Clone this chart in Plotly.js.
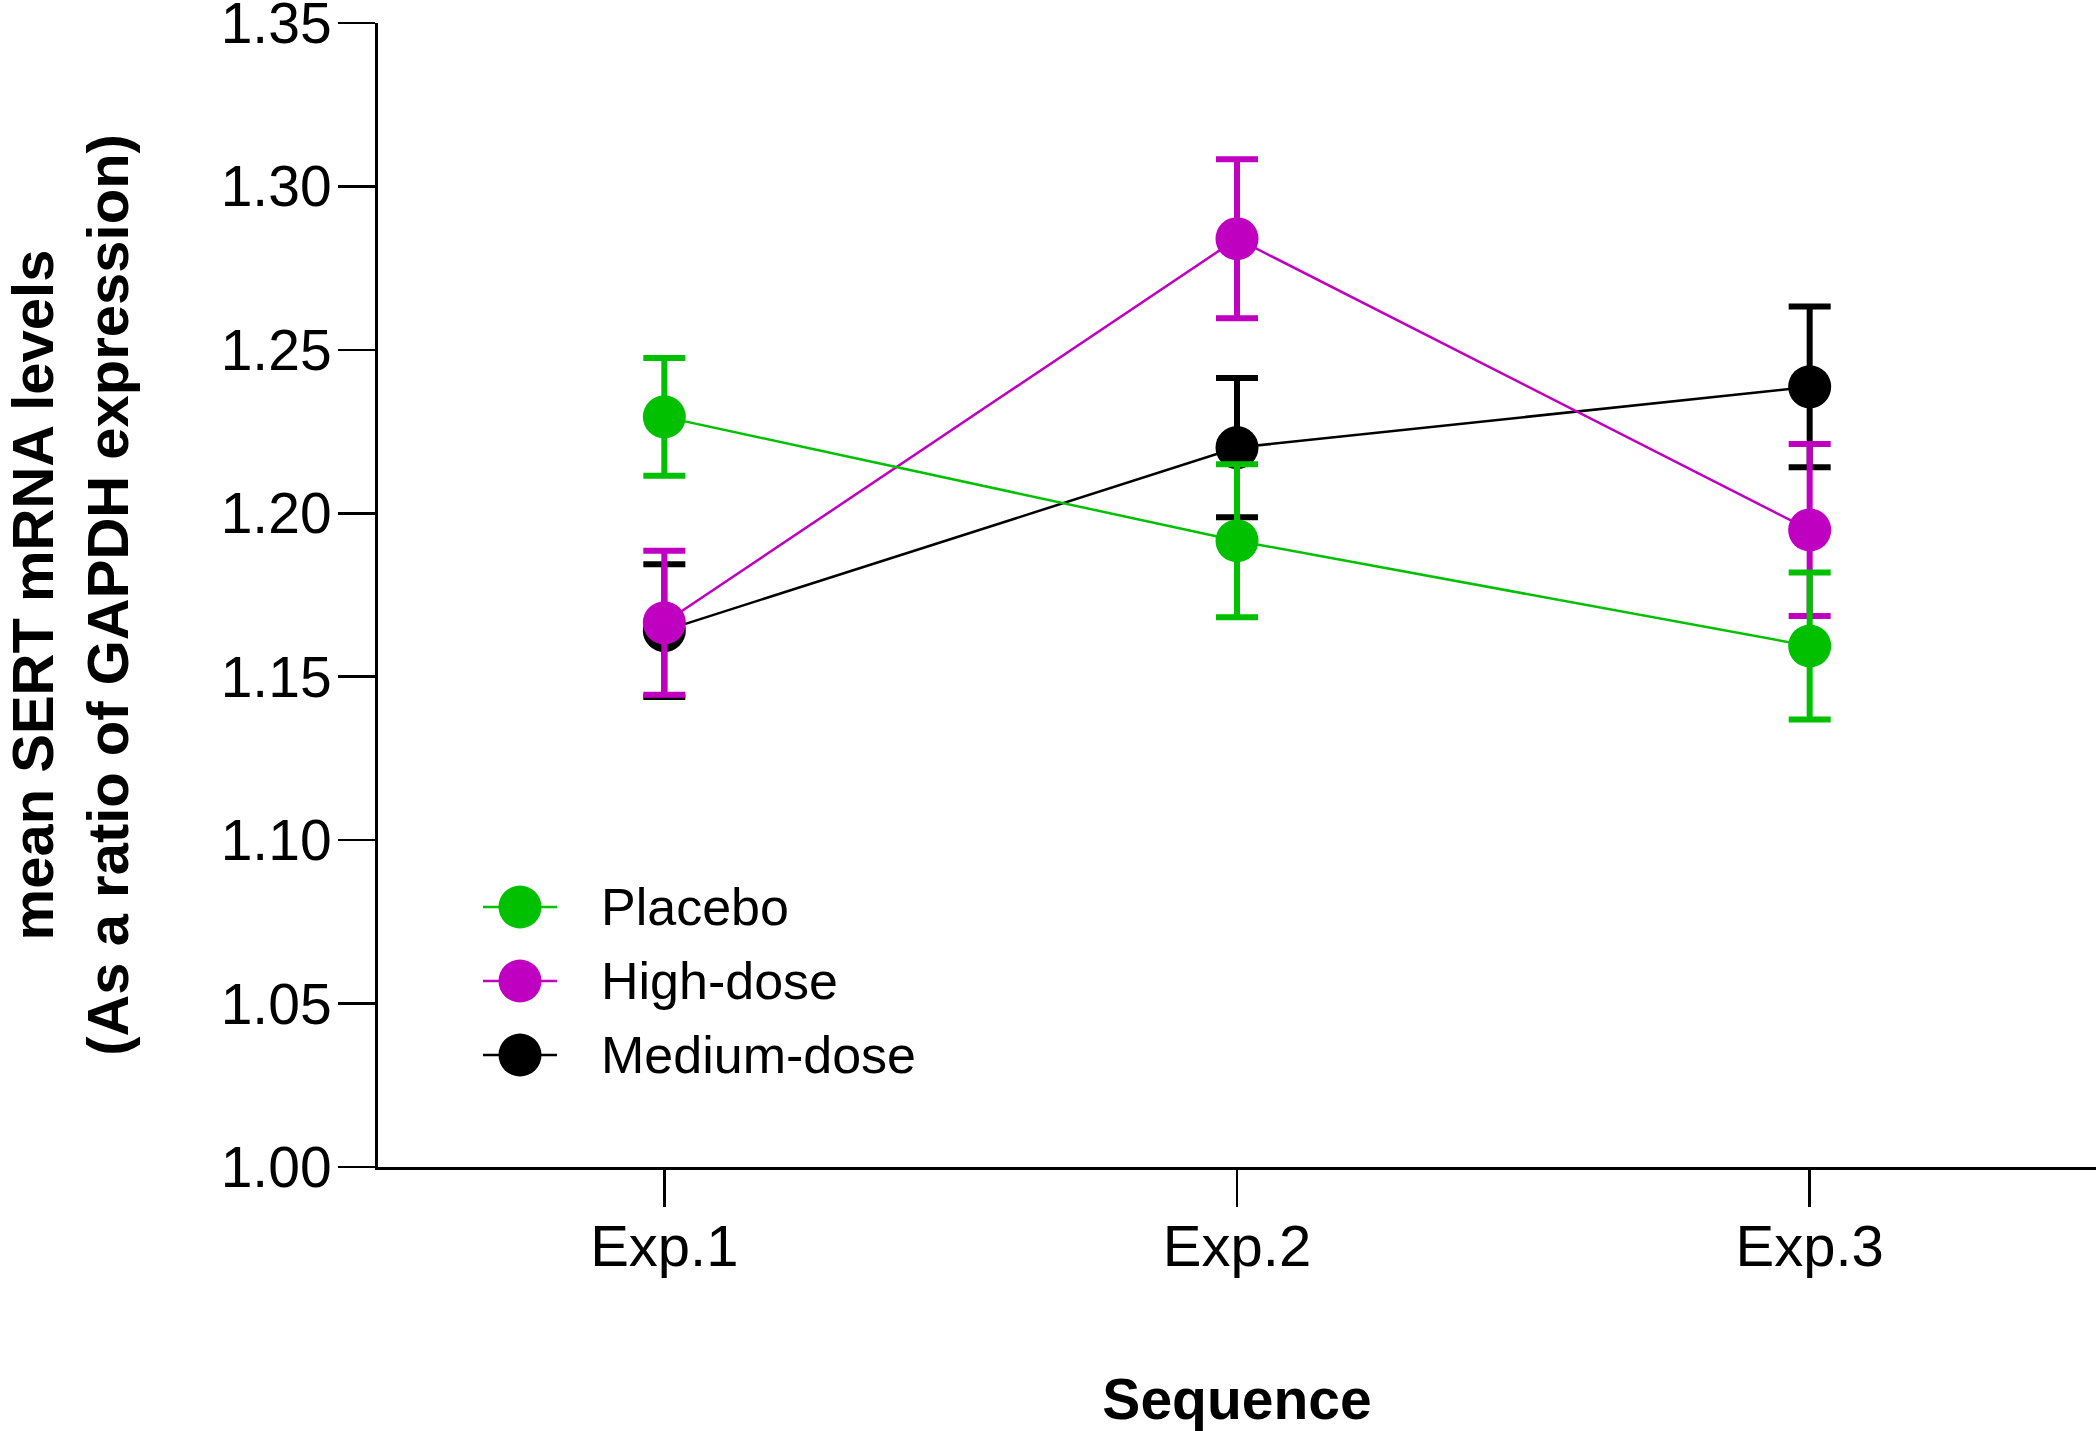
<!DOCTYPE html>
<html>
<head>
<meta charset="utf-8">
<script src="https://cdn.plot.ly/plotly-3.0.1.min.js"></script>
<style>
  html, body { margin: 0; padding: 0; background: #ffffff; }
  #chart { width: 2100px; height: 1431px; }
</style>
</head>
<body>
<div id="chart"></div>
<script>
// ---- data ----
const categories = ['Exp.1', 'Exp.2', 'Exp.3'];

const seriesNames = ['Placebo', 'High-dose', 'Medium-dose'];
const placeboMean = [1.2295, 1.1916, 1.1594];
const placeboErr  = [0.0180, 0.0234, 0.0225];
const highMean    = [1.1665, 1.2840, 1.1949];
const highErr     = [0.0220, 0.0243, 0.0263];
const mediumMean  = [1.1641, 1.2201, 1.2387];
const mediumErr   = [0.0203, 0.0213, 0.0246];

const yTickValues = [1.00, 1.05, 1.10, 1.15, 1.20, 1.25, 1.30, 1.35];
const yTickLabels = ['1.00', '1.05', '1.10', '1.15', '1.20', '1.25', '1.30', '1.35'];

// ---- styling ----
const colors = { 'Placebo': '#00c000', 'High-dose': '#c000c0', 'Medium-dose': '#000000' };
const FONT = 'Liberation Sans, Arial, Helvetica, sans-serif';
const MARKER = 43;

function makeTrace(name, mean, err) {
  return {
    type: 'scatter',
    mode: 'lines+markers',
    name: name,
    x: categories,
    y: mean,
    line: { color: colors[name], width: 2.5 },
    marker: { color: colors[name], size: MARKER, symbol: 'circle' },
    error_y: { type: 'data', array: err, visible: true, color: colors[name], thickness: 6, width: 21 },
    cliponaxis: false,
    showlegend: false
  };
}

// drawing order: medium at the bottom, placebo on top
const traces = [
  makeTrace('Medium-dose', mediumMean, mediumErr),
  makeTrace('High-dose', highMean, highErr),
  makeTrace('Placebo', placeboMean, placeboErr)
];

// ---- plot area geometry (px) ----
const L = 378, R = 4, T = 23, B = 264;
const W = 2100 - L - R, H = 1431 - T - B;
const px2x = p => (p - L) / W;
const px2y = p => (T + H - p) / H;

// ---- legend drawn as layout decoration ----
const legendRowY0 = 907, legendRowStep = 74;
const legendGlyphX = 520, legendLineX0 = 483, legendLineX1 = 557, legendTextX = 599;
const shapes = [];
const annotations = [];
seriesNames.forEach((name, i) => {
  const py = legendRowY0 + i * legendRowStep;
  shapes.push({
    type: 'line', xref: 'paper', yref: 'paper',
    x0: px2x(legendLineX0), x1: px2x(legendLineX1), y0: px2y(py), y1: px2y(py),
    line: { color: colors[name], width: 2.5 }
  });
  shapes.push({
    type: 'circle', xref: 'paper', yref: 'paper',
    xsizemode: 'pixel', ysizemode: 'pixel',
    xanchor: px2x(legendGlyphX), yanchor: px2y(py),
    x0: -MARKER / 2, x1: MARKER / 2, y0: -MARKER / 2, y1: MARKER / 2,
    fillcolor: colors[name], line: { width: 0 }
  });
  annotations.push({
    xref: 'paper', yref: 'paper', x: px2x(legendTextX), y: px2y(py),
    xanchor: 'left', yanchor: 'middle', showarrow: false,
    text: name, font: { family: FONT, size: 52, color: '#000' }
  });
});

const layout = {
  width: 2100, height: 1431,
  margin: { l: L, r: R, t: T, b: B, pad: 0 },
  paper_bgcolor: '#ffffff', plot_bgcolor: '#ffffff',
  font: { family: FONT, color: '#000' },
  showlegend: false,
  xaxis: {
    type: 'category',
    range: [-0.5, 2.5],
    showgrid: false, zeroline: false,
    showline: true, linecolor: '#000', linewidth: 3,
    ticks: 'outside', ticklen: 37, tickwidth: 2.5, tickcolor: '#000',
    tickfont: { family: FONT, size: 58, color: '#000' },
    ticklabelstandoff: -11,
    title: { text: '<b>Sequence</b>', font: { family: FONT, size: 57, color: '#000' }, standoff: 105 },
    fixedrange: true
  },
  yaxis: {
    range: [1.0, 1.3500001],
    tickmode: 'array',
    tickvals: yTickValues,
    ticktext: yTickLabels,
    ticklabeloverflow: 'allow',
    showgrid: false, zeroline: false,
    showline: true, linecolor: '#000', linewidth: 3,
    ticks: 'outside', ticklen: 37, tickwidth: 2.5, tickcolor: '#000',
    tickfont: { family: FONT, size: 57, color: '#000' },
    ticklabelstandoff: -5,
    title: { text: '<b>mean SERT mRNA levels<br>(As a ratio of GAPDH expression)</b>', font: { family: FONT, size: 58, color: '#000' }, standoff: 93 },
    fixedrange: true
  },
  shapes: shapes,
  annotations: annotations
};

Plotly.newPlot('chart', traces, layout, { displayModeBar: false, staticPlot: true });
</script>
</body>
</html>
